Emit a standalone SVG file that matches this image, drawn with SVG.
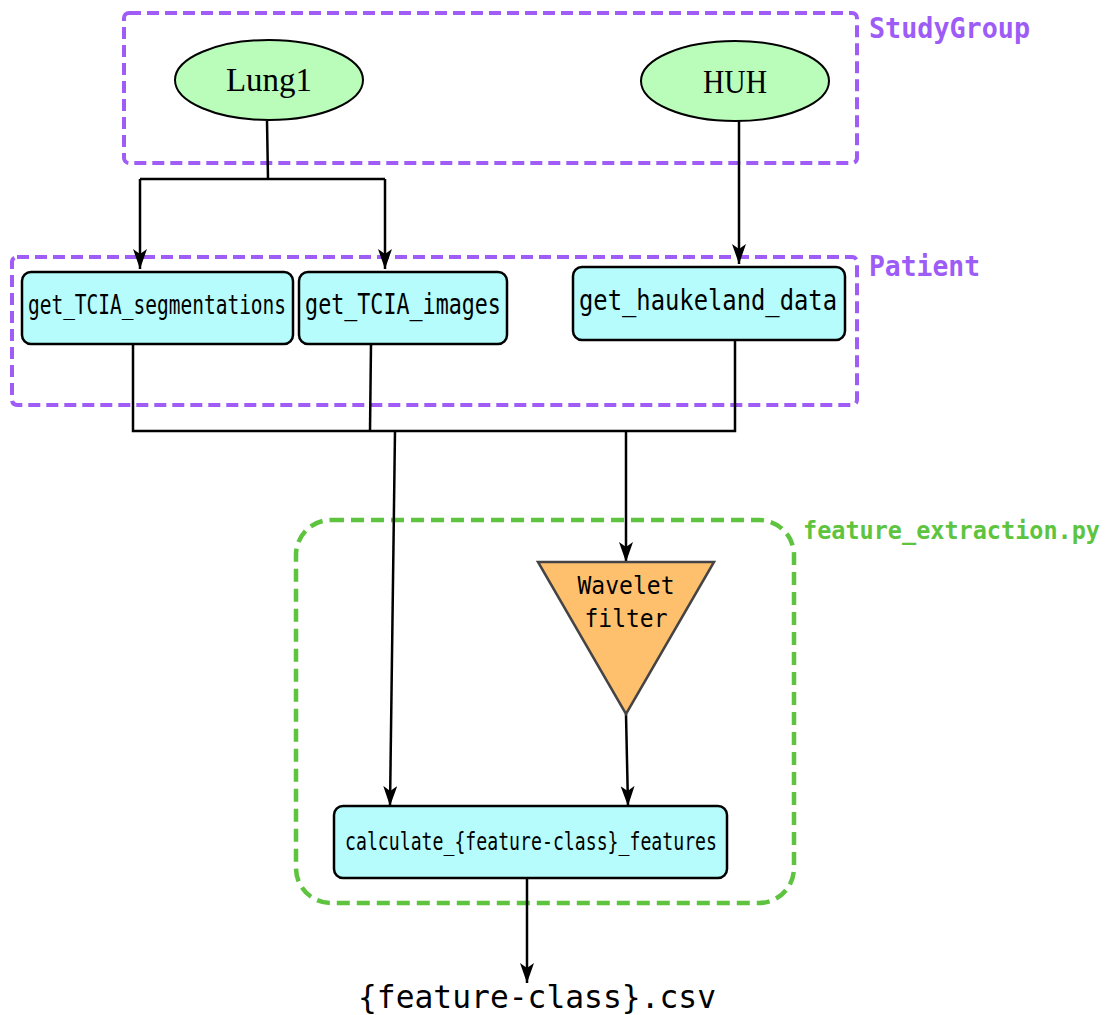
<svg xmlns="http://www.w3.org/2000/svg" width="1105" height="1015" viewBox="0 0 1105 1015">
<defs>
<marker id="arr" viewBox="0 0 20 14" refX="20" refY="7" markerWidth="20" markerHeight="14" markerUnits="userSpaceOnUse" orient="auto">
<path d="M0,0 L20,7 L0,14 L5,7 z" fill="#000"/>
</marker>
<style>
.cl{fill:none;stroke-width:4;stroke-dasharray:12 6}
.pur{stroke:#a05cf6}
.grn{stroke:#5ec43f;stroke-width:4.5;stroke-dasharray:13 7}
.ltp{fill:#9d5cf6;font-family:"DejaVu Sans Mono",monospace;font-weight:bold;font-size:28px}
.ltg{fill:#5ec43f;font-family:"DejaVu Sans Mono",monospace;font-weight:bold;font-size:24px}
.ell{fill:#bafcba;stroke:#000;stroke-width:2}
.box{fill:#b6fcfc;stroke:#000;stroke-width:2.5}
.et{font-family:"Liberation Serif",serif;font-size:34px;text-anchor:middle;fill:#000}
.bt{font-family:"DejaVu Sans Mono",monospace;font-size:26px;text-anchor:middle;fill:#000}
.edge{fill:none;stroke:#000;stroke-width:2.5}
</style>
</defs>
<rect width="1105" height="1015" fill="#fff"/>
<g id="clusters">
<rect class="cl pur" x="124" y="13" width="733" height="150" rx="5"/>
<text class="ltp" x="869" y="38" textLength="161" lengthAdjust="spacingAndGlyphs">StudyGroup</text>
<rect class="cl pur" x="12" y="257" width="845" height="148" rx="5"/>
<text class="ltp" x="869" y="276" textLength="111" lengthAdjust="spacingAndGlyphs">Patient</text>
<rect class="cl grn" x="296" y="520" width="498" height="383" rx="35"/>
<text class="ltg" x="803" y="539" textLength="297" lengthAdjust="spacingAndGlyphs">feature_extraction.py</text>
</g>
<g id="connectors">
<path class="edge" d="M267,121 L268,179"/>
<path class="edge" d="M140,179 L385,179"/>
<path class="edge" d="M140,179 L140,269" marker-end="url(#arr)"/>
<path class="edge" d="M385,179 L385,269" marker-end="url(#arr)"/>
<path class="edge" d="M739,121 L739,264" marker-end="url(#arr)"/>
<path class="edge" d="M133,344 L133,431 L735,431 L735,340"/>
<path class="edge" d="M371,344 L370,431"/>
<path class="edge" d="M395,431 L390,806" marker-end="url(#arr)"/>
<path class="edge" d="M626,431 L626,562" marker-end="url(#arr)"/>
<path class="edge" d="M626,714 L628,806" marker-end="url(#arr)"/>
<path class="edge" d="M527,878 L527,983" marker-end="url(#arr)"/>
</g>
<g id="Lung1">
<ellipse class="ell" cx="269" cy="80" rx="94" ry="40"/>
<text class="et" x="269" y="91" textLength="86" lengthAdjust="spacingAndGlyphs">Lung1</text>
</g>
<g id="HUH">
<ellipse class="ell" cx="735" cy="81" rx="94" ry="40"/>
<text class="et" x="735" y="93" textLength="64" lengthAdjust="spacingAndGlyphs">HUH</text>
</g>
<g id="get_TCIA_segmentations">
<rect class="box" x="22" y="272" width="271" height="72" rx="9"/>
<text class="bt" transform="translate(157,314) scale(0.75,1)" x="0" y="0">get_TCIA_segmentations</text>
</g>
<g id="get_TCIA_images">
<rect class="box" x="299" y="272" width="208" height="72" rx="9"/>
<text class="bt" transform="translate(403,314) scale(0.775,1)" x="0" y="0" style="font-size:28px">get_TCIA_images</text>
</g>
<g id="get_haukeland_data">
<rect class="box" x="573" y="267" width="272" height="73" rx="9"/>
<text class="bt" x="708" y="310" style="font-size:28px" textLength="258" lengthAdjust="spacingAndGlyphs">get_haukeland_data</text>
</g>
<g id="wavelet">
<path d="M538,562 L714,562 L626,714 z" fill="#ffc06e" stroke="#444" stroke-width="2.5"/>
<text class="bt" x="626" y="594" style="font-size:24px" textLength="97" lengthAdjust="spacingAndGlyphs">Wavelet</text>
<text class="bt" x="626" y="627" style="font-size:24px" textLength="83" lengthAdjust="spacingAndGlyphs">filter</text>
</g>
<g id="calculate">
<rect class="box" x="334" y="806" width="393" height="72" rx="9"/>
<text class="bt" x="531" y="850" style="font-size:24px" textLength="372" lengthAdjust="spacingAndGlyphs">calculate_{feature-class}_features</text>
</g>
<g id="csv">
<text class="bt" x="537" y="1008" style="font-size:32px" textLength="358" lengthAdjust="spacingAndGlyphs">{feature-class}.csv</text>
</g>
</svg>
